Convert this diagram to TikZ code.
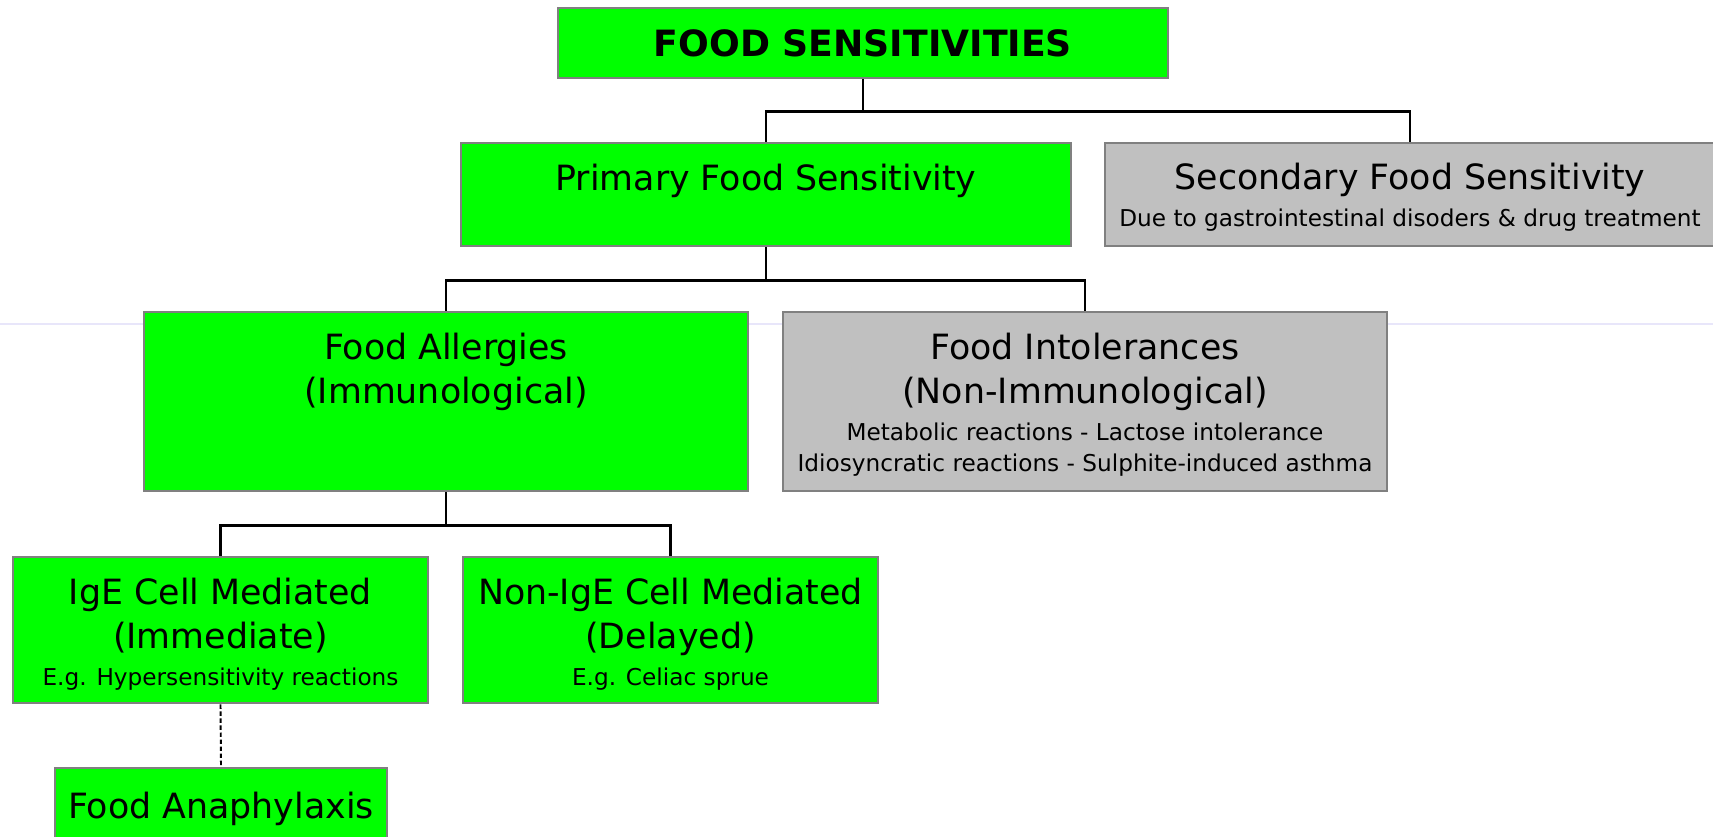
\documentclass[tikz,border=0pt]{standalone}
\usepackage{fontspec}
\setmainfont{DejaVu Sans}
\usetikzlibrary{calc}
\definecolor{vivgreen}{HTML}{00FF00}
\definecolor{boxgray}{HTML}{C0C0C0}
\definecolor{edgegray}{HTML}{808080}
\definecolor{faintlav}{HTML}{E8E6FA}
\newcommand{\mainsize}{\fontsize{19.8}{25}\selectfont}
\newcommand{\notesize}{\fontsize{13.2}{18}\selectfont}

\begin{document}
\begin{tikzpicture}[
  x=0.02cm, y=-0.02cm,
  box/.style={
    draw=edgegray, line width=1.6pt, fill=#1, inner sep=0pt
  },
  box/.default=vivgreen,
  boxtext/.style={
    anchor=north, inner sep=0pt, align=center, font=\mainsize, text=black
  },
  conn/.style={draw=black, line width=1.3pt},
]

\useasboundingbox (0,0) rectangle (1713,837);
\clip (0,0) rectangle (1713,837);

% faint slide rule
\draw[faintlav, line width=1pt] (0,324) -- (1713,324);

% =============================================
% Top level
% =============================================
\node[box, minimum width=12.2cm, minimum height=1.4cm,
      font=\fontsize{20.6}{25}\selectfont\bfseries] (food-sens) at (863,43)
  {FOOD SENSITIVITIES};

% =============================================
% Primary / secondary
% =============================================
\node[box, minimum width=12.2cm, minimum height=2.06cm] (primary) at (766,194.5) {};
\node[boxtext] (primary-txt) at ($(primary.north)+(0,22)$)
  {Primary Food Sensitivity};

\node[box=boxgray, minimum width=12.2cm, minimum height=2.06cm] (secondary) at (1410,194.5) {};
\node[boxtext] (secondary-txt) at ($(secondary.north)+(0,21)$)
  {Secondary Food Sensitivity\\[-4pt]
   {\notesize Due to gastrointestinal disoders \& drug treatment}};

\draw[conn] (food-sens.south) -- ++(0,32) -| (primary.north);
\draw[conn] (food-sens.south) -- ++(0,32) -| (secondary.north);

% =============================================
% Allergies / intolerances
% =============================================
\node[box, minimum width=12.08cm, minimum height=3.58cm] (allergies) at (446,401.5) {};
\node[boxtext] (allergies-txt) at ($(allergies.north)+(0,22)$)
  {Food Allergies\\(Immunological)};

\node[box=boxgray, minimum width=12.08cm, minimum height=3.58cm] (intol) at (1085,401.5) {};
\node[boxtext] (intol-txt) at ($(intol.north)+(0,22)$)
  {Food Intolerances\\(Non-Immunological)\\[-4pt]
   {\notesize Metabolic reactions - Lactose intolerance}\\[-7pt]
   {\notesize Idiosyncratic reactions - Sulphite-induced asthma}};

\draw[conn] (primary.south) -- ++(0,33) -| (allergies.north);
\draw[conn] (primary.south) -- ++(0,33) -| (intol.north);

% =============================================
% IgE / non-IgE
% =============================================
\node[box, minimum width=8.3cm, minimum height=2.92cm] (ige) at (220.5,630) {};
\node[boxtext] (ige-txt) at ($(ige.north)+(0,22)$)
  {IgE Cell Mediated\\(Immediate)\\[-4pt]
   {\notesize E.g. Hypersensitivity reactions}};

\node[box, minimum width=8.3cm, minimum height=2.92cm] (nonige) at (670.5,630) {};
\node[boxtext] (nonige-txt) at ($(nonige.north)+(0,22)$)
  {Non-IgE Cell Mediated\\(Delayed)\\[-4pt]
   {\notesize E.g. Celiac sprue}};

\draw[conn] (allergies.south) -- ++(0,33) -| (ige.north);
\draw[conn] (allergies.south) -- ++(0,33) -| (nonige.north);

% Anaphylaxis (dotted link)
\node[box, minimum width=6.64cm, minimum height=1.6cm] (anaph) at (221,808) {};
\node[boxtext] (anaph-txt) at ($(anaph.north)+(0,25)$)
  {Food Anaphylaxis};

\draw[conn, line width=1.1pt, dash pattern=on 2.5pt off 1.5pt] (ige.south) -- (anaph.north);

\end{tikzpicture}
\end{document}
